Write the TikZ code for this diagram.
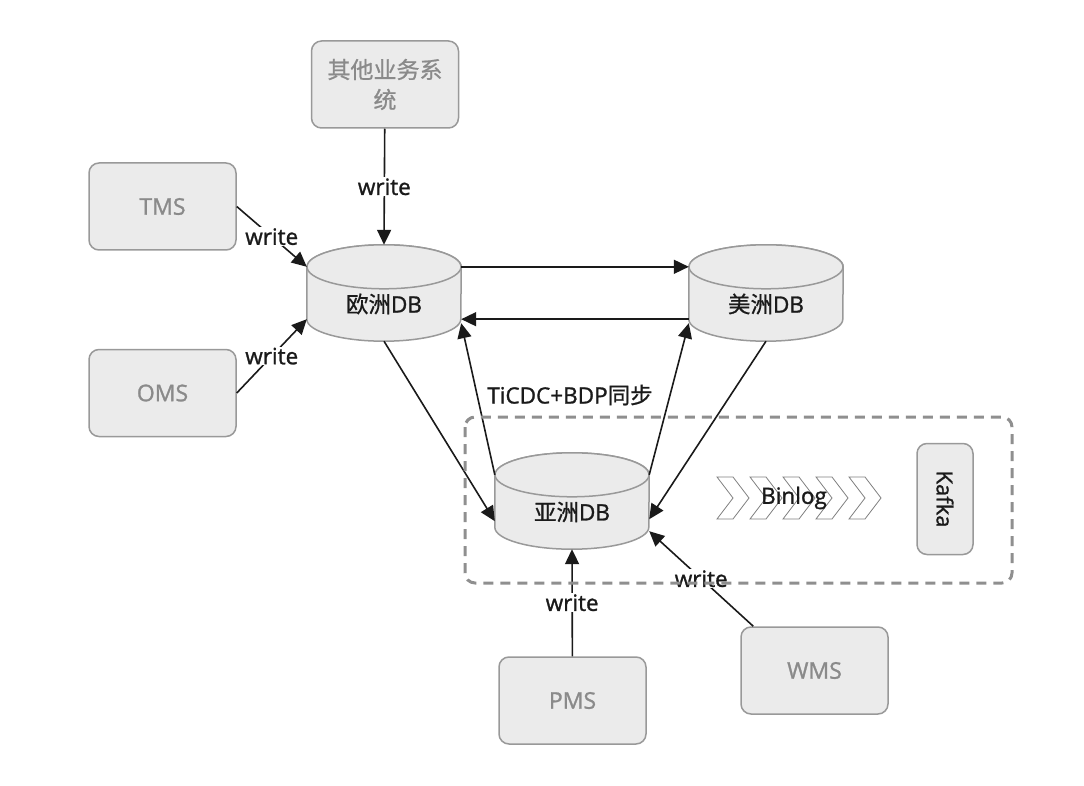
\documentclass[tikz,border=0pt]{standalone}
\usepackage{fontspec}
\setmainfont{Open Sans}[FakeBold=1.2]
\newfontfamily\cjk{Noto Sans CJK SC}[FakeBold=0.8]
\usetikzlibrary{arrows.meta,backgrounds}
\definecolor{boxfill}{HTML}{EBEBEB}
\definecolor{boxline}{HTML}{999999}
\definecolor{boxtext}{HTML}{8A8A8A}
\definecolor{ink}{HTML}{1A1A1A}
\definecolor{framegray}{HTML}{8F8F8F}
\tikzset{
  sysbox/.style={draw=boxline, fill=boxfill, line width=1.5pt, rounded corners=10pt,
    minimum width=147pt, minimum height=87pt, text=boxtext,
    font=\fontsize{23}{30}\selectfont, align=center},
  dbnode/.style={minimum width=154pt, minimum height=74pt, inner sep=0pt, text=ink,
    font=\fontsize{22.5}{26}\selectfont},
  dbline/.style={draw=boxline, fill=boxfill, line width=1.5pt},
  conn/.style={draw=ink, line width=1.6pt, -{Triangle[length=15pt,width=14pt]}},
  wlabel/.style={fill=white, text=ink, inner sep=1pt, font=\fontsize{22.5}{26}\selectfont},
  plain/.style={text=ink, font=\fontsize{22.5}{26}\selectfont},
  chev/.style={draw=gray, fill=white, line width=0.8pt},
}

\begin{document}
\begin{tikzpicture}[x=1pt,y=-1pt]
\useasboundingbox (0,0) rectangle (1084,786);

% systems
\node[sysbox] (other) at (385,84.5) {{\cjk 其他业务系}\\{\cjk 统}};
\node[sysbox] (tms) at (162.5,206.5) {TMS};
\node[sysbox] (oms) at (162.5,393) {OMS};
\node[sysbox] (pms) at (572.5,700.5) {PMS};
\node[sysbox] (wms) at (814.5,670.5) {WMS};
\node[sysbox, rotate=-90, minimum width=111pt, minimum height=56pt, text=ink,
  font=\fontsize{22}{26}\selectfont] (kafka) at (945,499) {Kafka};

% databases
\node[dbnode] (eu) at (384,304) {{\cjk 欧洲}DB};
\node[dbnode] (am) at (766,304) {{\cjk 美洲}DB};
\node[dbnode] (as) at (572,512) {{\cjk 亚洲}DB};
\begin{scope}[on background layer]
\foreach \db in {eu,am,as}{
  \draw[dbline] (\db.north west) -- ([yshift=22pt]\db.south west)
    arc[start angle=180,end angle=360,x radius=77pt,y radius=22pt]
    -- (\db.north east)
    arc[start angle=0,end angle=180,x radius=77pt,y radius=22pt] -- cycle;
  \draw[dbline] (\db.north) ellipse[x radius=77pt,y radius=22pt];
}
\end{scope}

% binlog
\foreach \k in {0,...,4}{
  \draw[chev] ({717+33*\k},477) -- ++(16,0) -- ++(16,21) -- ++(-16,21) -- ++(-16,0) -- ++(16,-21) -- cycle;
}
\node[plain] (binlog) at (794,498) {Binlog};
\node[plain] (sync) at (570,395) {TiCDC+BDP{\cjk 同步}};

% writes
\draw[conn] (other) -- node[wlabel]{write} ([yshift=22pt]eu.north);
\draw[conn] (tms.east) -- node[wlabel]{write} (eu.north west);
\draw[conn] (oms.east) -- node[wlabel]{write} ([yshift=22pt]eu.south west);
\draw[conn] (pms) -- node[wlabel]{write} (as.south);
\draw[conn] ([xshift=13pt]wms.north west) -- node[wlabel]{write} ([yshift=18pt]as.south east);

% sync
\draw[conn] (eu.north east) -- (am.north west);
\draw[conn] ([yshift=22pt]am.south west) -- ([yshift=22pt]eu.south east);
\draw[conn] (eu.south) -- ([yshift=28pt]as.south west);
\draw[conn] (as.north west) -- ([yshift=18pt]eu.south east);
\draw[conn] (as.north east) -- ([yshift=18pt]am.south west);
\draw[conn] (am.south) -- ([yshift=30pt]as.south east);

\draw[framegray, line width=3pt, dash pattern=on 10pt off 7pt, rounded corners=10pt]
  (465,417) rectangle (1012,583);
\end{tikzpicture}
\end{document}
